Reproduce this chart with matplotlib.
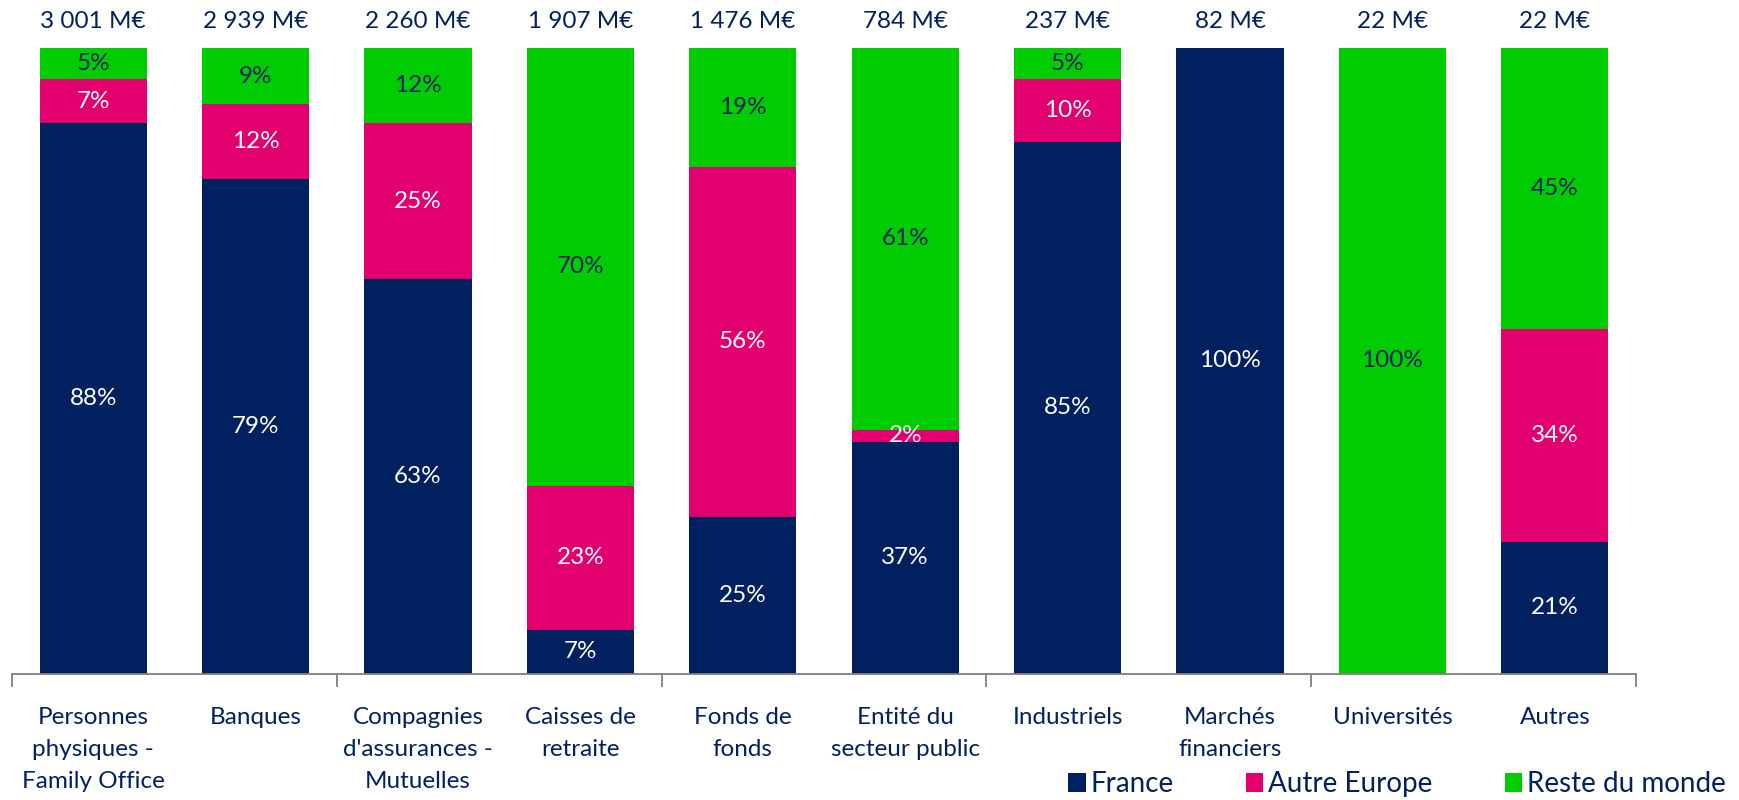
import numpy as np
import matplotlib
matplotlib.use('Agg')
import matplotlib.pyplot as plt

plt.rcParams['font.family'] = ['Lato', 'DejaVu Sans']

# Data
categories = ['Personnes\nphysiques -\nFamily Office', 'Banques',
              "Compagnies\nd'assurances -\nMutuelles", 'Caisses de\nretraite',
              'Fonds de\nfonds', 'Entité du\nsecteur public', 'Industriels',
              'Marchés\nfinanciers', 'Universités', 'Autres']
totals = ['3 001 M€', '2 939 M€', '2 260 M€', '1 907 M€', '1 476 M€',
          '784 M€', '237 M€', '82 M€', '22 M€', '22 M€']
france = [88, 79, 63, 7, 25, 37, 85, 100, 0, 21]
autre_europe = [7, 12, 25, 23, 56, 2, 10, 0, 0, 34]
reste_monde = [5, 9, 12, 70, 19, 61, 5, 0, 100, 45]

navy = '#002060'
pink = '#E2006F'
green = '#00CC00'
text_col = '#002060'
fs = 17.5

fig = plt.figure(figsize=(17.4, 8), dpi=100)
ax = fig.add_axes([12 / 1740, 1 - 673.5 / 800, (1636 - 12) / 1740, (673.5 - 48) / 800])

x = np.arange(len(categories))
w = 0.66
series = [('France', france, navy, 'white'),
          ('Autre Europe', autre_europe, pink, 'white'),
          ('Reste du monde', reste_monde, green, text_col)]

bottom = np.zeros(len(categories))
handles = []
for name, vals, col, tcol in series:
    vals = np.array(vals, dtype=float)
    b = ax.bar(x, vals, w, bottom=bottom, color=col, label=name, linewidth=0)
    handles.append(b)
    for xi, v, b0 in zip(x, vals, bottom):
        if v > 0:
            ax.text(xi, b0 + v / 2, f'{int(v)}%', ha='center', va='center',
                    color=tcol, fontsize=fs)
    bottom += vals

for xi, t in zip(x, totals):
    ax.annotate(t, (xi, 100), xytext=(0, 19), textcoords='offset points',
                ha='center', va='center', color=text_col, fontsize=fs,
                annotation_clip=False)

ax.set_xlim(-0.5, len(categories) - 0.5)
ax.set_ylim(0, 100)
for s in ['top', 'right', 'left']:
    ax.spines[s].set_visible(False)
ax.spines['bottom'].set_color('#7f7f7f')
ax.spines['bottom'].set_linewidth(1.3)
ax.set_yticks([])

# tick marks every two categories, labels under each bar
ax.set_xticks(np.arange(-0.5, len(categories), 2))
ax.set_xticklabels([])
ax.tick_params(axis='x', which='major', length=9, width=1.3, color='#7f7f7f',
               direction='out')
ax.set_xticks(x, minor=True)
ax.set_xticklabels(categories, minor=True, fontsize=fs, color=text_col,
                   linespacing=1.65)
ax.tick_params(axis='x', which='minor', length=0, pad=24)

fig.legend(handles=handles, labels=[h.get_label() for h in handles],
           loc='center right', bbox_to_anchor=(1726 / 1740, 1 - 784 / 800), ncol=3,
           frameon=False, fontsize=20, labelcolor=text_col,
           handlelength=0.62, handleheight=0.65, handletextpad=0.18,
           columnspacing=2.6, borderaxespad=0, borderpad=0)

plt.savefig('out.png', dpi=100)
